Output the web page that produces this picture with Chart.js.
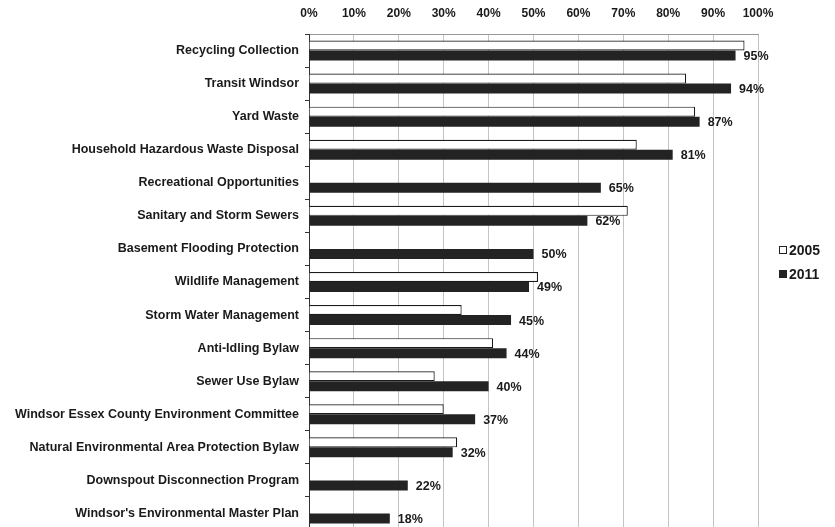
<!DOCTYPE html>
<html>
<head>
<meta charset="utf-8">
<script src="https://cdn.jsdelivr.net/npm/chart.js@4"></script>
<style>
  html, body { margin: 0; padding: 0; background: #fff; width: 835px; height: 527px; overflow: hidden; }
  #wrap { position: relative; width: 835px; height: 546px; }
  #legend { position: absolute; left: 779px; top: 242px; font: bold 14px "Liberation Sans", Arial, sans-serif; color: #1a1a1a; white-space: nowrap; }
  #legend div { height: 24px; line-height: 17px; }
  #legend span.box { display: inline-block; width: 6px; height: 6px; border: 1px solid #222; margin-right: 2px; vertical-align: 1px; }
</style>
</head>
<body>
<div id="wrap">
  <canvas id="chart" width="835" height="546"></canvas>
  <div id="legend"></div>
</div>
<script>
// categories, top to bottom
const categories = [
  "Recycling Collection",
  "Transit Windsor",
  "Yard Waste",
  "Household Hazardous Waste Disposal",
  "Recreational Opportunities",
  "Sanitary and Storm Sewers",
  "Basement Flooding Protection",
  "Wildlife Management",
  "Storm Water Management",
  "Anti-Idling Bylaw",
  "Sewer Use Bylaw",
  "Windsor Essex County Environment Committee",
  "Natural Environmental Area Protection Bylaw",
  "Downspout Disconnection Program",
  "Windsor's Environmental Master Plan"
];
// 2005 survey (no bar where the item wasn't asked)
const values2005 = [97, 84, 86, 73, null, 71, null, 51, 34, 41, 28, 30, 33, null, null];
const values2011 = [95, 94, 87, 81, 65, 62, 50, 49, 45, 44, 40, 37, 32, 22, 18];
const xTicks = [0, 10, 20, 30, 40, 50, 60, 70, 80, 90, 100];

const font = "'Liberation Sans', Arial, sans-serif";
const dark = "#232323";

// value labels at the end of the 2011 bars
const barLabels = {
  id: "barLabels",
  afterDatasetsDraw(chart) {
    const ctx = chart.ctx;
    const meta = chart.getDatasetMeta(1);
    ctx.save();
    ctx.font = "bold 12.5px " + font;
    ctx.fillStyle = "#1a1a1a";
    ctx.textAlign = "left";
    ctx.textBaseline = "middle";
    meta.data.forEach((bar, i) => {
      ctx.fillText(values2011[i] + "%", bar.x + 8, bar.y + 1);
    });
    ctx.restore();
  }
};

const chart = new Chart(document.getElementById("chart"), {
  type: "bar",
  data: {
    labels: categories,
    datasets: [
      {
        label: "2005",
        data: values2005,
        backgroundColor: "#ffffff",
        borderColor: "#1a1a1a",
        borderWidth: 1.2,
        barPercentage: 1,
        categoryPercentage: 0.605
      },
      {
        label: "2011",
        data: values2011,
        backgroundColor: dark,
        borderWidth: 0,
        barPercentage: 1,
        categoryPercentage: 0.605
      }
    ]
  },
  options: {
    indexAxis: "y",
    responsive: false,
    animation: false,
    layout: { padding: { left: 0, right: 77, top: 0, bottom: 16 } },
    plugins: { legend: { display: false }, tooltip: { enabled: false } },
    scales: {
      x: {
        position: "top",
        min: 0,
        max: 100,
        afterBuildTicks: (scale) => { scale.ticks = xTicks.map(v => ({ value: v })); },
        afterFit: (scale) => { scale.height = 34; },
        ticks: {
          callback: (v) => v + "%",
          color: "#1a1a1a",
          font: { family: font, size: 12, weight: "bold" },
          padding: 13,
          maxRotation: 0
        },
        grid: { color: "#c4c4c4", drawTicks: false },
        border: { display: true, color: "#999999" }
      },
      y: {
        afterFit: (scale) => { scale.width = 309; },
        ticks: {
          color: "#1a1a1a",
          font: { family: font, size: 12.5, weight: "bold" },
          padding: 6
        },
        grid: { display: true, drawOnChartArea: false, drawTicks: true, tickLength: 4, offset: true, color: "#333333" },
        border: { display: true, color: "#333333", width: 1 }
      }
    }
  },
  plugins: [barLabels]
});

// legend from the dataset labels
const legend = document.getElementById("legend");
chart.data.datasets.forEach((ds) => {
  const row = document.createElement("div");
  const box = document.createElement("span");
  box.className = "box";
  box.style.background = ds.backgroundColor;
  row.appendChild(box);
  row.appendChild(document.createTextNode(ds.label));
  legend.appendChild(row);
});
</script>
</body>
</html>
